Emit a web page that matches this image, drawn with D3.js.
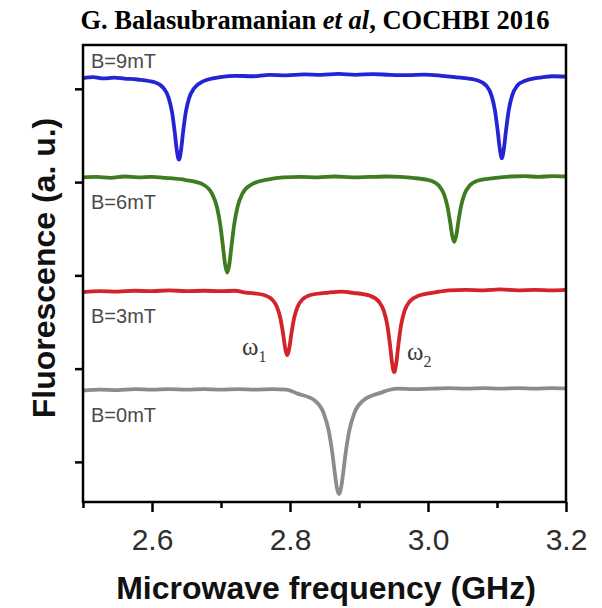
<!DOCTYPE html>
<html>
<head>
<meta charset="utf-8">
<script src="https://cdn.jsdelivr.net/npm/d3@7"></script>
<style>
  html, body { margin: 0; padding: 0; background: #fff; }
  svg { display: block; }
</style>
</head>
<body>
<script>
// ODMR spectra: [frequency GHz, fluorescence a.u. (offset per trace)]
const fieldLabels = ['B=9mT', 'B=6mT', 'B=3mT', 'B=0mT'];
const traceColors = ['#2424d4', '#3f7c20', '#d3232b', '#8c8c8c'];

const trace9mT = [
  [2.500,5.115],[2.515,5.125],[2.530,5.112],[2.545,5.120],[2.560,5.110],
  [2.579,5.100],[2.604,5.070],[2.617,5.006],[2.624,4.906],[2.629,4.751],[2.633,4.533],[2.636,4.338],
  [2.639,4.240],
  [2.642,4.338],[2.645,4.533],[2.649,4.751],[2.654,4.906],[2.661,5.006],[2.674,5.080],[2.699,5.125],
  [2.720,5.140],[2.745,5.135],[2.770,5.150],[2.795,5.145],[2.820,5.155],[2.845,5.150],[2.870,5.160],
  [2.895,5.150],[2.920,5.158],[2.945,5.150],[2.970,5.146],[2.995,5.152],[3.020,5.140],
  [3.047,5.120],[3.072,5.090],[3.085,5.030],[3.092,4.930],[3.097,4.770],[3.101,4.550],[3.104,4.360],
  [3.107,4.257],
  [3.110,4.360],[3.113,4.550],[3.117,4.770],[3.122,4.930],[3.129,5.030],[3.142,5.090],[3.167,5.125],
  [3.180,5.135],[3.200,5.130]
];

const trace6mT = [
  [2.500,4.050],[2.520,4.055],[2.540,4.045],[2.560,4.060],[2.580,4.050],[2.600,4.055],[2.620,4.045],
  [2.649,4.022],[2.674,3.974],[2.687,3.876],[2.694,3.736],[2.699,3.540],[2.703,3.300],[2.706,3.115],
  [2.709,3.030],
  [2.712,3.115],[2.715,3.300],[2.719,3.540],[2.724,3.736],[2.731,3.876],[2.744,3.974],[2.769,4.030],
  [2.790,4.050],[2.815,4.055],[2.840,4.050],[2.865,4.060],[2.890,4.050],[2.915,4.055],[2.940,4.060],
  [2.960,4.055],
  [2.978,4.045],[3.003,4.017],[3.016,3.960],[3.023,3.874],[3.028,3.746],[3.032,3.576],[3.035,3.430],
  [3.038,3.360],
  [3.041,3.430],[3.044,3.576],[3.048,3.746],[3.053,3.874],[3.060,3.960],[3.073,4.017],[3.098,4.045],
  [3.120,4.060],[3.140,4.065],[3.160,4.055],[3.180,4.065],[3.200,4.060]
];

const trace3mT = [
  [2.500,2.820],[2.525,2.830],[2.550,2.825],[2.575,2.835],[2.600,2.830],[2.625,2.840],[2.650,2.830],
  [2.675,2.835],[2.700,2.830],[2.720,2.835],
  [2.736,2.816],[2.761,2.792],[2.774,2.741],[2.781,2.664],[2.786,2.543],[2.790,2.373],[2.793,2.221],
  [2.796,2.145],
  [2.799,2.221],[2.802,2.373],[2.806,2.543],[2.811,2.664],[2.818,2.741],[2.831,2.792],[2.856,2.816],
  [2.875,2.825],
  [2.891,2.813],[2.916,2.781],[2.929,2.717],[2.936,2.619],[2.941,2.466],[2.945,2.251],[2.948,2.058],
  [2.951,1.962],
  [2.954,2.058],[2.957,2.251],[2.961,2.466],[2.966,2.619],[2.973,2.717],[2.986,2.781],[3.011,2.818],
  [3.030,2.840],[3.055,2.845],[3.080,2.840],[3.105,2.850],[3.130,2.840],[3.155,2.845],[3.180,2.840],
  [3.200,2.845]
];

const trace0mT = [
  [2.500,1.765],[2.525,1.775],[2.550,1.770],[2.575,1.780],[2.600,1.775],[2.625,1.780],[2.650,1.775],
  [2.675,1.780],[2.700,1.775],[2.725,1.780],[2.750,1.775],[2.775,1.780],[2.795,1.775],
  [2.811,1.732],[2.836,1.657],[2.849,1.519],[2.856,1.338],[2.861,1.114],[2.865,0.879],[2.868,0.721],
  [2.871,0.654],
  [2.874,0.721],[2.877,0.879],[2.881,1.114],[2.886,1.338],[2.893,1.519],[2.906,1.657],[2.931,1.740],
  [2.955,1.785],[2.980,1.780],[3.005,1.785],[3.030,1.790],[3.055,1.785],[3.080,1.790],[3.105,1.785],
  [3.130,1.790],[3.155,1.785],[3.180,1.790],[3.200,1.785]
];

const traces = [trace9mT, trace6mT, trace3mT, trace0mT];

const majorTicks = [2.6, 2.8, 3.0, 3.2];
const minorTicks = [2.5, 2.7, 2.9, 3.1];
const yTicks = [1, 2, 3, 4, 5];

const W = 602, H = 608;
const plot = { left: 83, right: 566, top: 45, bottom: 502 };

const svg = d3.select('body').append('svg')
    .attr('width', W)
    .attr('height', H);

const x = d3.scaleLinear().domain([2.5, 3.2]).range([plot.left, plot.right]);
const y = d3.scaleLinear().domain([0.57, 5.47]).range([plot.bottom, plot.top]);

// title
const title = svg.append('text')
    .attr('x', 315).attr('y', 29)
    .attr('text-anchor', 'middle')
    .style('font-family', '"Liberation Serif", "Times New Roman", serif')
    .style('font-weight', 'bold')
    .style('font-size', '26.5px')
    .style('fill', '#000');
title.append('tspan').text('G. Balasubramanian ');
title.append('tspan').text('et al').style('font-style', 'italic');
title.append('tspan').text(', COCHBI 2016');

// traces
const line = d3.line()
    .x(d => x(d[0]))
    .y(d => y(d[1]))
    .curve(d3.curveMonotoneX);

svg.append('g').selectAll('path')
    .data(traces)
    .join('path')
    .attr('d', line)
    .attr('fill', 'none')
    .attr('stroke', (d, i) => traceColors[i])
    .attr('stroke-width', 3.8)
    .attr('stroke-linejoin', 'round');

// field labels
const labelPos = [[91, 68], [91, 209], [91, 323], [91, 422]];
svg.append('g').selectAll('text')
    .data(fieldLabels)
    .join('text')
    .attr('x', (d, i) => labelPos[i][0])
    .attr('y', (d, i) => labelPos[i][1])
    .text(d => d)
    .style('font-family', '"Liberation Sans", Arial, sans-serif')
    .style('font-size', '20px')
    .style('fill', '#4a4a4a');

// omega labels
function omega(xp, yp, sub) {
  const t = svg.append('text')
      .attr('x', xp).attr('y', yp)
      .style('font-family', '"Liberation Serif", "Times New Roman", serif')
      .style('font-size', '25px')
      .style('fill', '#3a3a3a');
  t.append('tspan').text('ω');
  t.append('tspan').text(sub).attr('dy', 7).style('font-size', '16px');
}
omega(242, 355, '1');
omega(407, 360, '2');

// axes
const xMinor = svg.append('g')
    .attr('transform', `translate(0,${plot.bottom})`)
    .call(d3.axisBottom(x).tickValues(minorTicks).tickSize(6).tickFormat(''));
const xMajor = svg.append('g')
    .attr('transform', `translate(0,${plot.bottom})`)
    .call(d3.axisBottom(x).tickValues(majorTicks).tickSize(10).tickPadding(17).tickFormat(d3.format('.1f')));
const yAxis = svg.append('g')
    .attr('transform', `translate(${plot.left},0)`)
    .call(d3.axisLeft(y).tickValues(yTicks).tickSize(8).tickFormat(''));

[xMinor, xMajor, yAxis].forEach(g => {
  g.select('.domain').remove();
  g.selectAll('.tick line').attr('stroke', '#000').attr('stroke-width', 2.5);
});
xMajor.selectAll('.tick text')
    .style('font-family', '"Liberation Sans", Arial, sans-serif')
    .style('font-size', '30px')
    .style('fill', '#2e2e2e');

// frame
svg.append('rect')
    .attr('x', plot.left).attr('y', plot.top)
    .attr('width', plot.right - plot.left)
    .attr('height', plot.bottom - plot.top)
    .attr('fill', 'none')
    .attr('stroke', '#000')
    .attr('stroke-width', 2.5);

// axis titles
svg.append('text')
    .attr('x', 326).attr('y', 599)
    .attr('text-anchor', 'middle')
    .text('Microwave frequency (GHz)')
    .style('font-family', '"Liberation Sans", Arial, sans-serif')
    .style('font-weight', 'bold')
    .style('font-size', '32px')
    .style('fill', '#111');

svg.append('text')
    .attr('transform', 'translate(55,268) rotate(-90)')
    .attr('text-anchor', 'middle')
    .text('Fluorescence (a. u.)')
    .style('font-family', '"Liberation Sans", Arial, sans-serif')
    .style('font-weight', 'bold')
    .style('font-size', '32px')
    .style('fill', '#111');
</script>
</body>
</html>
